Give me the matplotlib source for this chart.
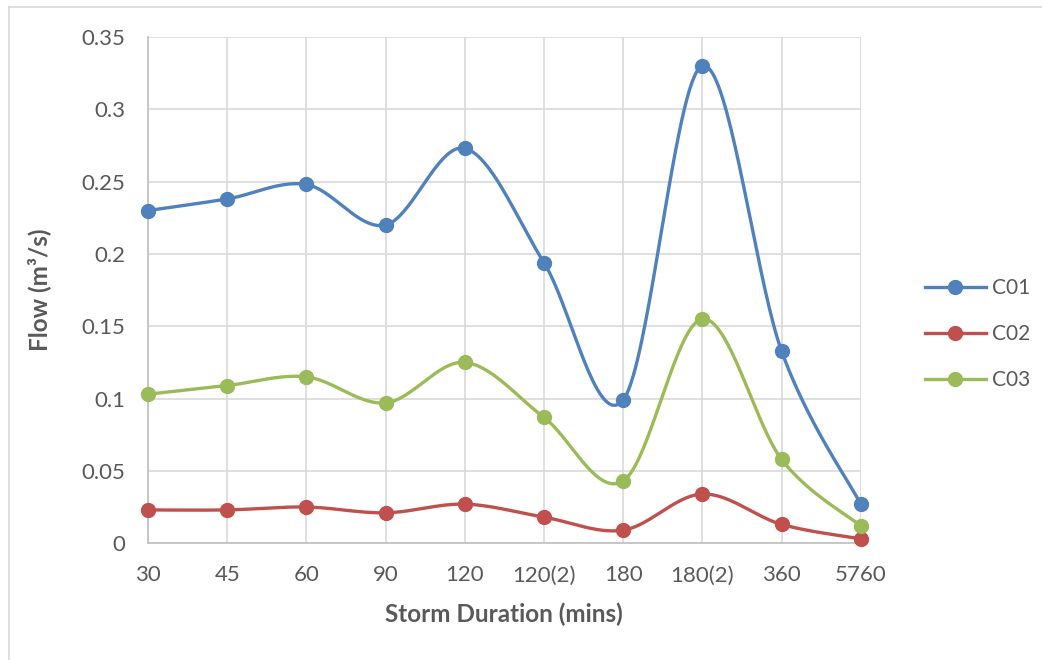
import numpy as np
import matplotlib
matplotlib.use("Agg")
import matplotlib.pyplot as plt
from matplotlib.lines import Line2D

plt.rcParams['font.family'] = ['Lato', 'DejaVu Sans']

# --- Data ---
durations = ["30", "45", "60", "90", "120", "120(2)", "180", "180(2)", "360", "5760"]
c01 = [0.230, 0.238, 0.248, 0.220, 0.273, 0.194, 0.099, 0.330, 0.133, 0.027]
c02 = [0.023, 0.023, 0.025, 0.021, 0.027, 0.018, 0.009, 0.034, 0.013, 0.003]
c03 = [0.103, 0.109, 0.115, 0.097, 0.125, 0.087, 0.043, 0.155, 0.058, 0.012]

series = [("C01", c01, "#4F81BD"), ("C02", c02, "#C0504D"), ("C03", c03, "#9BBB59")]


def smooth(x, y, steps=40):
    """Bezier smoothing through every point (Catmull-Rom style control points)."""
    x = np.asarray(x, float)
    y = np.asarray(y, float)
    px = np.concatenate([[x[0]], x, [x[-1]]])
    py = np.concatenate([[y[0]], y, [y[-1]]])
    t = np.linspace(0, 1, steps)
    xs, ys = [], []
    for i in range(len(x) - 1):
        p0 = np.array([px[i + 1], py[i + 1]])
        p3 = np.array([px[i + 2], py[i + 2]])
        p1 = p0 + (p3 - np.array([px[i], py[i]])) / 6
        p2 = p3 - (np.array([px[i + 3], py[i + 3]]) - p0) / 6
        b = ((1 - t) ** 3)[:, None] * p0 + (3 * (1 - t) ** 2 * t)[:, None] * p1 \
            + (3 * (1 - t) * t ** 2)[:, None] * p2 + (t ** 3)[:, None] * p3
        xs.append(b[:, 0])
        ys.append(b[:, 1])
    return np.concatenate(xs), np.concatenate(ys)


fig = plt.figure(figsize=(10.42, 6.6), dpi=100)
ax = fig.add_axes([0.142, 0.177, 0.684, 0.767])

# outer chart frame
fig.add_artist(Line2D([9 / 1042, 9 / 1042], [0, 1 - 7 / 660], color="#d9d9d9", lw=1.2,
                      transform=fig.transFigure))
fig.add_artist(Line2D([9 / 1042, 1], [1 - 7 / 660, 1 - 7 / 660], color="#d9d9d9", lw=1.2,
                      transform=fig.transFigure))

x = np.arange(len(durations))
handles = []
for name, vals, col in series:
    sx, sy = smooth(x, vals)
    ax.plot(sx, sy, color=col, lw=2.4, solid_capstyle="round", zorder=3, clip_on=False)
    ax.plot(x, vals, "o", color=col, ms=10, zorder=4, clip_on=False)
    handles.append(Line2D([], [], color=col, lw=2.4, marker="o", ms=10, label=name))

ax.set_xlim(0, len(durations) - 1)
ax.set_ylim(0, 0.35)
ax.set_xticks(x)
ax.set_xticklabels(durations)
yt = np.arange(0, 0.351, 0.05)
ax.set_yticks(yt)
ax.set_yticklabels(["0", "0.05", "0.1", "0.15", "0.2", "0.25", "0.3", "0.35"])
ax.grid(True, color="#d9d9d9", lw=1.2)
ax.set_axisbelow(True)
ax.tick_params(length=0, labelsize=16, colors="#595959")
ax.tick_params(axis="x", pad=16)
ax.tick_params(axis="y", pad=16)
for s in ["top", "right"]:
    ax.spines[s].set_visible(False)
for s in ["left", "bottom"]:
    ax.spines[s].set_color("#bfbfbf")
    ax.spines[s].set_linewidth(1.2)

ax.set_xlabel("Storm Duration (mins)", fontsize=17.5, fontweight="bold", color="#595959", labelpad=12)
ax.set_ylabel("Flow (m³/s)", fontsize=17.5, fontweight="bold", color="#595959", labelpad=22)

leg = fig.legend(handles=handles, loc="center left", bbox_to_anchor=(0.870, 0.494),
                 frameon=False, fontsize=15, labelcolor="#595959", handlelength=2.9,
                 labelspacing=1.25, handletextpad=0.3)

fig.savefig("out.png", dpi=100)
